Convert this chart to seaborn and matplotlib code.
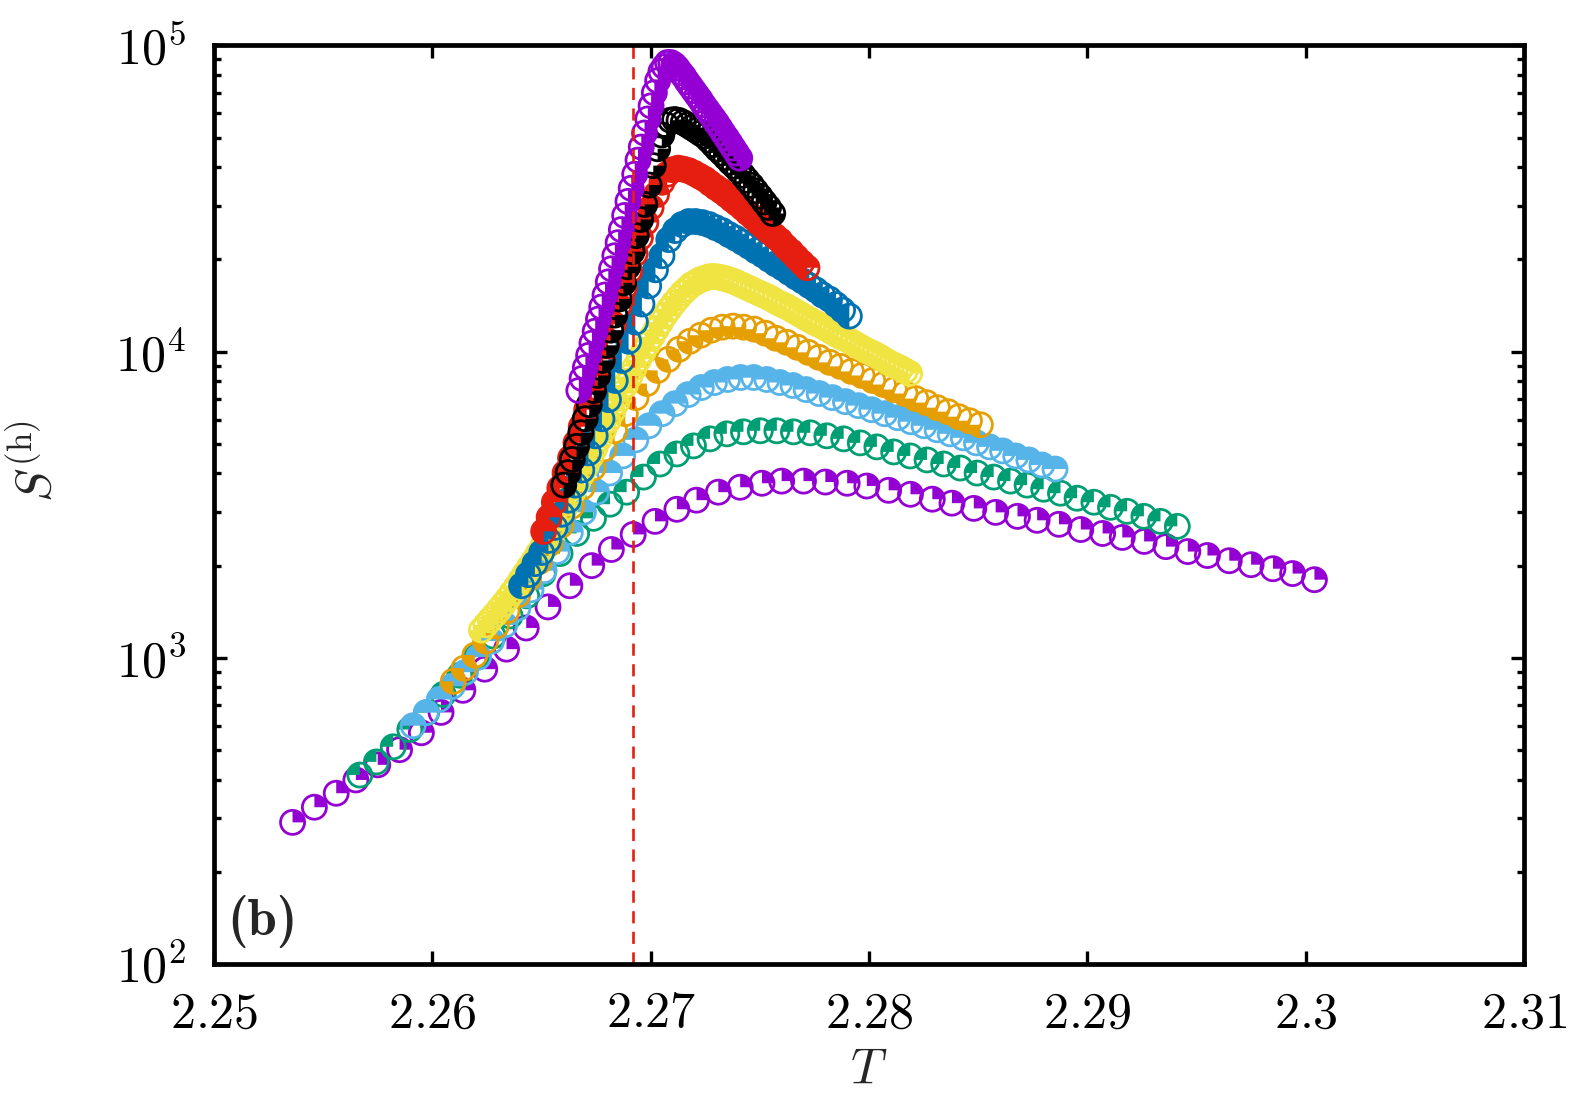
import os
import numpy as np
import pandas as pd
import matplotlib
matplotlib.use("Agg")
import matplotlib.pyplot as plt
from matplotlib.path import Path
from matplotlib.markers import MarkerStyle
from matplotlib.font_manager import FontProperties
from matplotlib.ticker import LogLocator, NullFormatter, FixedLocator, FixedFormatter
import seaborn as sns

# ---------------- data ----------------
T1 = [2.2536, 2.2546, 2.2556, 2.2565, 2.2575, 2.2585, 2.2595, 2.2604, 2.2614, 2.2624,
      2.2634, 2.2643, 2.2653, 2.2663, 2.2673, 2.2682, 2.2692, 2.2702, 2.2712, 2.2721,
      2.2731, 2.2741, 2.2751, 2.2760, 2.2770, 2.2780, 2.2790, 2.2799, 2.2809, 2.2819,
      2.2829, 2.2838, 2.2848, 2.2858, 2.2868, 2.2877, 2.2887, 2.2897, 2.2907, 2.2916,
      2.2926, 2.2936, 2.2946, 2.2955, 2.2965, 2.2975, 2.2985, 2.2994, 2.3004]
S1 = [290, 325, 361, 399, 447, 501, 569, 663, 783, 918,
      1067, 1251, 1466, 1719, 2000, 2258, 2529, 2790, 3055, 3272,
      3475, 3606, 3716, 3776, 3776, 3750, 3716, 3639, 3524, 3420,
      3296, 3199, 3076, 2985, 2897, 2812, 2729, 2624, 2547, 2472,
      2399, 2307, 2223, 2158, 2075, 2014, 1954, 1884, 1799]

T2 = [2.25668, 2.25744, 2.25821, 2.25897, 2.25974, 2.26050, 2.26126, 2.26203, 2.26279, 2.26356,
      2.26432, 2.26508, 2.26585, 2.26661, 2.26738, 2.26814, 2.26890, 2.26967, 2.27043, 2.27120,
      2.27196, 2.27272, 2.27349, 2.27425, 2.27502, 2.27578, 2.27654, 2.27731, 2.27807, 2.27884,
      2.27960, 2.28036, 2.28113, 2.28189, 2.28266, 2.28342, 2.28418, 2.28495, 2.28571, 2.28648,
      2.28724, 2.28800, 2.28877, 2.28953, 2.29030, 2.29106, 2.29182, 2.29259, 2.29335, 2.29412]
S2 = [414, 457, 512, 583, 662, 759, 877, 1005, 1178, 1370,
      1594, 1883, 2190, 2548, 2854, 3174, 3475, 3893, 4295, 4633,
      4921, 5189, 5389, 5471, 5513, 5513, 5471, 5430, 5309, 5189,
      5035, 4885, 4703, 4563, 4428, 4295, 4167, 4012, 3893, 3777,
      3664, 3553, 3448, 3320, 3222, 3101, 3009, 2898, 2790, 2687]

T3 = [2.25912, 2.25972, 2.26032, 2.26092, 2.26152, 2.26212, 2.26272, 2.26332, 2.26392, 2.26452,
      2.26512, 2.26572, 2.26632, 2.26692, 2.26752, 2.26812, 2.26872, 2.26932, 2.26992, 2.27052,
      2.27112, 2.27172, 2.27232, 2.27292, 2.27352, 2.27412, 2.27472, 2.27532, 2.27592, 2.27652,
      2.27712, 2.27772, 2.27832, 2.27892, 2.27952, 2.28012, 2.28072, 2.28132, 2.28192, 2.28252,
      2.28312, 2.28372, 2.28432, 2.28492, 2.28552, 2.28612, 2.28672, 2.28732, 2.28792, 2.28852]
S3 = [600, 662, 731, 807, 897, 1005, 1134, 1280, 1455, 1668,
      1925, 2223, 2567, 2988, 3475, 4012, 4563, 5150, 5726, 6271,
      6763, 7239, 7633, 7926, 8109, 8233, 8233, 8109, 7926, 7750,
      7518, 7295, 7077, 6866, 6661, 6463, 6271, 6083, 5902, 5726,
      5555, 5389, 5229, 5035, 4885, 4740, 4563, 4428, 4263, 4136]

T4 = [2.26096, 2.26145, 2.26195, 2.26244, 2.26293, 2.26342, 2.26392, 2.26441, 2.26490, 2.26539,
      2.26589, 2.26638, 2.26687, 2.26736, 2.26786, 2.26835, 2.26884, 2.26933, 2.26983, 2.27032,
      2.27081, 2.27130, 2.27180, 2.27229, 2.27278, 2.27328, 2.27377, 2.27426, 2.27475, 2.27525,
      2.27574, 2.27623, 2.27672, 2.27722, 2.27771, 2.27820, 2.27869, 2.27919, 2.27968, 2.28017,
      2.28066, 2.28116, 2.28165, 2.28214, 2.28263, 2.28313, 2.28362, 2.28411, 2.28460, 2.28510]
S4 = [838, 924, 1020, 1134, 1270, 1423, 1606, 1813, 2062, 2362,
      2707, 3125, 3609, 4167, 4811, 5513, 6271, 7077, 7866, 8683,
      9434, 10177, 10812, 11314, 11749, 12020, 12112, 12020, 11838, 11486,
      11057, 10728, 10332, 9947, 9578, 9225, 8950, 8618, 8358, 8049,
      7809, 7518, 7295, 7025, 6815, 6561, 6366, 6131, 5948, 5770]

T5 = [2.26225, 2.26245, 2.26265, 2.26285, 2.26305, 2.26325, 2.26345, 2.26365, 2.26385, 2.26405,
      2.26425, 2.26445, 2.26465, 2.26485, 2.26505, 2.26525, 2.26545, 2.26565, 2.26585, 2.26605,
      2.26625, 2.26645, 2.26665, 2.26685, 2.26705, 2.26725, 2.26745, 2.26765, 2.26785, 2.26805,
      2.26825, 2.26845, 2.26865, 2.26885, 2.26905, 2.26925, 2.26946, 2.26966, 2.26986, 2.27006,
      2.27026, 2.27046, 2.27066, 2.27086, 2.27106, 2.27126, 2.27146, 2.27166, 2.27186, 2.27206,
      2.27226, 2.27246, 2.27266, 2.27286, 2.27306, 2.27326, 2.27346, 2.27366, 2.27386, 2.27406,
      2.27426, 2.27446, 2.27466, 2.27486, 2.27506, 2.27526, 2.27546, 2.27566, 2.27586, 2.27606,
      2.27626, 2.27646, 2.27666, 2.27686, 2.27706, 2.27726, 2.27746, 2.27766, 2.27786, 2.27806,
      2.27826, 2.27846, 2.27866, 2.27886, 2.27906, 2.27926, 2.27946, 2.27966, 2.27986, 2.28006,
      2.28026, 2.28046, 2.28066, 2.28086, 2.28106, 2.28126, 2.28146, 2.28166, 2.28186]
S5 = [1232, 1280, 1329, 1380, 1434, 1495, 1558, 1630, 1706, 1792,
      1883, 1978, 2077, 2190, 2309, 2444, 2587, 2738, 2898, 3079,
      3271, 3488, 3720, 3967, 4231, 4529, 4848, 5189, 5555, 5947,
      6366, 6815, 7295, 7779, 8295, 8846, 9434, 9985, 10568, 11185,
      11838, 12483, 13164, 13773, 14411, 14968, 15547, 16024, 16516, 16832,
      17154, 17350, 17549, 17600, 17549, 17430, 17285, 17090, 16899, 16643,
      16390, 16145, 15904, 15665, 15430, 15199, 14971, 14691, 14416, 14199,
      13985, 13723, 13466, 13212, 12962, 12721, 12484, 12296, 12112, 11884,
      11660, 11442, 11228, 11060, 10895, 10690, 10488, 10292, 10100, 9948,
      9799, 9615, 9434, 9258, 9086, 8949, 8814, 8648, 8486]

T6 = [2.26409, 2.26440, 2.26470, 2.26501, 2.26532, 2.26562, 2.26593, 2.26623, 2.26654, 2.26685,
      2.26715, 2.26746, 2.26777, 2.26807, 2.26838, 2.26868, 2.26899, 2.26930, 2.26960, 2.26991,
      2.27022, 2.27052, 2.27083, 2.27113, 2.27144, 2.27175, 2.27205, 2.27236, 2.27267, 2.27297,
      2.27328, 2.27359, 2.27389, 2.27420, 2.27450, 2.27481, 2.27512, 2.27542, 2.27573, 2.27604,
      2.27634, 2.27665, 2.27695, 2.27726, 2.27757, 2.27787, 2.27818, 2.27849, 2.27879, 2.27910]
S6 = [1719, 1869, 2030, 2207, 2417, 2667, 2942, 3271, 3664, 4104,
      4669, 5309, 6038, 6970, 8049, 9362, 10812, 12484, 14305, 16390,
      18505, 20570, 23220, 24855, 26010, 26600, 26600, 26400, 26010, 25424,
      24855, 24111, 23480, 22784, 22102, 21360, 20725, 20032, 19360, 18786,
      18155, 17549, 17022, 16452, 15904, 15311, 14856, 14249, 13668, 13062]

T7 = [2.26510, 2.26535, 2.26559, 2.26584, 2.26608, 2.26633, 2.26658, 2.26682, 2.26707, 2.26732,
      2.26756, 2.26781, 2.26805, 2.26830, 2.26855, 2.26879, 2.26904, 2.26929, 2.26953, 2.26978,
      2.27002, 2.27027, 2.27052, 2.27076, 2.27101, 2.27126, 2.27150, 2.27175, 2.27199, 2.27224,
      2.27249, 2.27273, 2.27298, 2.27322, 2.27347, 2.27372, 2.27396, 2.27421, 2.27446, 2.27470,
      2.27495, 2.27519, 2.27544, 2.27569, 2.27593, 2.27618, 2.27643, 2.27667, 2.27692, 2.27716]
S7 = [2587, 2876, 3222, 3582, 4012, 4495, 5035, 5683, 6463, 7295,
      8297, 9434, 10812, 12296, 14090, 16144, 18365, 20880, 23575, 26410,
      29576, 32636, 35737, 37970, 39288, 39734, 39432, 38988, 38258, 37396,
      36559, 35465, 34414, 33512, 32511, 31426, 30493, 29473, 28383, 27432,
      26410, 25523, 24668, 23842, 23044, 22021, 21203, 20341, 19513, 18786]

T8 = [2.26602, 2.26622, 2.26641, 2.26661, 2.26680, 2.26700, 2.26719, 2.26739, 2.26758, 2.26778,
      2.26797, 2.26817, 2.26836, 2.26856, 2.26876, 2.26895, 2.26915, 2.26934, 2.26954, 2.26973,
      2.26993, 2.27012, 2.27032, 2.27051, 2.27071, 2.27091, 2.27110, 2.27130, 2.27149, 2.27169,
      2.27188, 2.27208, 2.27227, 2.27247, 2.27266, 2.27286, 2.27305, 2.27325, 2.27345, 2.27364,
      2.27384, 2.27403, 2.27423, 2.27442, 2.27462, 2.27481, 2.27501, 2.27520, 2.27540, 2.27559]
S8 = [3664, 4027, 4444, 4904, 5430, 6038, 6711, 7463, 8358, 9362,
      10488, 11749, 13164, 14856, 16768, 18929, 21203, 23930, 27010, 30256,
      35000, 40500, 46000, 51000, 55000, 57000, 57300, 56900, 56000, 55000,
      53900, 52800, 51700, 50617, 49103, 47458, 45868, 44505, 43013, 41573,
      40339, 38988, 37683, 36284, 34933, 33512, 32150, 30832, 29576, 28263]

T9 = [2.26671, 2.26686, 2.26701, 2.26716, 2.26731, 2.26746, 2.26761, 2.26776, 2.26791, 2.26806,
      2.26821, 2.26836, 2.26851, 2.26866, 2.26881, 2.26896, 2.26911, 2.26927, 2.26942, 2.26957,
      2.26972, 2.26987, 2.27002, 2.27017, 2.27032, 2.27047, 2.27062, 2.27077, 2.27092, 2.27107,
      2.27122, 2.27137, 2.27152, 2.27167, 2.27182, 2.27197, 2.27212, 2.27227, 2.27242, 2.27257,
      2.27272, 2.27287, 2.27302, 2.27317, 2.27332, 2.27348, 2.27363, 2.27378, 2.27393, 2.27408]
S9 = [7463, 8172, 8881, 9722, 10649, 11660, 12770, 13985, 15311, 16899,
      18644, 20570, 22695, 25040, 27847, 30954, 34153, 37970, 42208, 46580,
      51772, 57557, 63504, 70098, 76736, 82149, 85310, 87942, 87942, 86616,
      84350, 81527, 79083, 76152, 73600, 71134, 68761, 66457, 63980, 61838,
      59778, 57775, 55847, 53773, 51772, 49851, 48005, 46216, 44505, 42855]

T_c = 2.269185

x_ticks = [2.25, 2.26, 2.27, 2.28, 2.29, 2.30, 2.31]
x_ticklabels = ["$2.25$", "$2.26$", "$2.27$", "$2.28$", "$2.29$", "$2.3$", "$2.31$"]
y_ticks = [1e2, 1e3, 1e4, 1e5]
y_ticklabels = ["$10^2$", "$10^3$", "$10^4$", "$10^5$"]

colors = ["#9400D3", "#009E73", "#56B4E9", "#E69F00", "#F0E442",
          "#0072B2", "#E51E10", "#000000", "#9400D3"]
# filled quadrants of each circle marker (degrees)
fills = [[(0, 90)], [(90, 180)], [(0, 180)], [(180, 270)], [(0, 90), (180, 270)],
         [(90, 270)], [(0, 270)], [(270, 360)], [(-90, 90)]]

series = [(T1, S1), (T2, S2), (T3, S3), (T4, S4), (T5, S5),
          (T6, S6), (T7, S7), (T8, S8), (T9, S9)]

# ---------------- style ----------------
sns.set_theme(style="ticks")
plt.rcParams.update({
    "font.family": ["DejaVu Serif"],
    "mathtext.fontset": "cm",
    "axes.linewidth": 3.4,
    "axes.edgecolor": "black",
    "xtick.color": "black",
    "ytick.color": "black",
})


def quad_marker(spans):
    paths = [Path.wedge(a, b) for a, b in spans]
    return MarkerStyle(Path.make_compound_path(*paths))


fig = plt.figure(figsize=(15.79, 11.09), dpi=100)
ax = fig.add_axes([0.1355, 0.1308, 0.8297, 0.8282])

ms = 17.3
for i, (T, S) in enumerate(series):
    df = pd.DataFrame({"T": T, "S": S})
    sns.scatterplot(data=df, x="T", y="S", ax=ax, marker=quad_marker(fills[i]),
                    s=ms ** 2, color=colors[i], edgecolor="none", linewidth=0,
                    zorder=2 + 2 * i, legend=False)
    sns.scatterplot(data=df, x="T", y="S", ax=ax, marker="o", s=ms ** 2,
                    color=colors[i], facecolor="none", edgecolor=colors[i],
                    linewidth=2.0, zorder=3 + 2 * i, legend=False)

ax.axvline(T_c, color="#E51E10", lw=1.9, ls=(0, (4.6, 3.2)), zorder=30)

ax.set_yscale("log")
ax.set_xlim(2.25, 2.31)
ax.set_ylim(1e2, 1e5)

ax.xaxis.set_major_locator(FixedLocator(x_ticks))
ax.xaxis.set_major_formatter(FixedFormatter(x_ticklabels))
ax.yaxis.set_major_locator(FixedLocator(y_ticks))
ax.yaxis.set_major_formatter(FixedFormatter(y_ticklabels))
ax.yaxis.set_minor_locator(LogLocator(base=10, subs=np.arange(2, 10)))
ax.yaxis.set_minor_formatter(NullFormatter())

ax.tick_params(which="both", direction="in", top=True, right=True, width=2.4)
ax.tick_params(which="major", length=9.5, labelsize=36)
ax.tick_params(which="minor", length=5)
ax.tick_params(axis="x", which="major", pad=18)
ax.tick_params(axis="y", which="major", pad=20)

ax.set_xlabel("$T$", fontsize=36)
ax.xaxis.set_label_coords(0.5, -0.087)
ax.set_ylabel(r"$S^{(\mathrm{h})}$", fontsize=36)
ax.yaxis.set_label_coords(-0.116, 0.548)

cmb = os.path.join(matplotlib.get_data_path(), "fonts", "ttf", "cmb10.ttf")
if os.path.exists(cmb):
    ax.text(0.010, 0.0316, "(b)", transform=ax.transAxes,
            fontproperties=FontProperties(fname=cmb, size=38),
            ha="left", va="baseline", zorder=40)
else:
    ax.text(0.010, 0.0316, r"$\mathbf{(b)}$", transform=ax.transAxes,
            fontsize=38, ha="left", va="baseline", zorder=40)

for sp in ax.spines.values():
    sp.set_zorder(50)

fig.savefig("out.png", dpi=100)
